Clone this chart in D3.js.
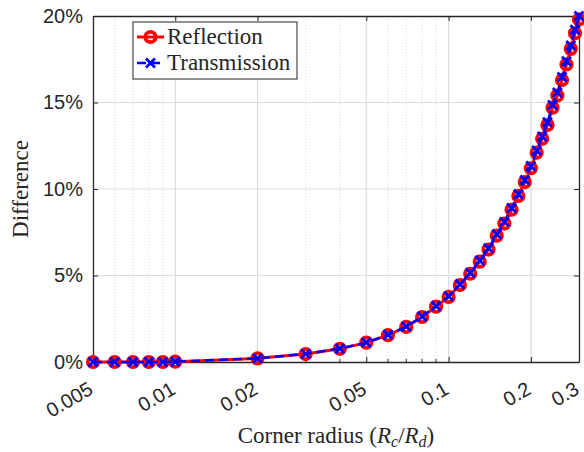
<!DOCTYPE html>
<html>
<head>
<meta charset="utf-8">
<script src="https://cdn.jsdelivr.net/npm/d3@7"></script>
<style>
  body { margin: 0; background: #fff; }
  svg text { fill: #262626; }
</style>
</head>
<body>
<svg id="chart" width="584" height="452"></svg>
<script>
// corner radius Rc/Rd
var radius = [0.005, 0.006, 0.007, 0.008, 0.009, 0.01, 0.02, 0.03, 0.04, 0.05,
              0.06, 0.07, 0.08, 0.09, 0.1, 0.11, 0.12, 0.13, 0.14, 0.15,
              0.16, 0.17, 0.18, 0.19, 0.2, 0.21, 0.22, 0.23, 0.24, 0.25,
              0.26, 0.27, 0.28, 0.29, 0.3];
// difference in %
var reflection = [0, 0, 0, 0, 0, 0.02, 0.21, 0.46, 0.76, 1.12,
                  1.55, 2.03, 2.6, 3.2, 3.76, 4.45, 5.1, 5.8, 6.5, 7.3,
                  8.0, 8.8, 9.6, 10.4, 11.2, 12.1, 12.9, 13.7, 14.7, 15.4,
                  16.3, 17.2, 18.1, 19.0, 19.8];
var transmission = [0, 0, 0, 0, 0, 0.02, 0.21, 0.47, 0.77, 1.13,
                    1.57, 2.05, 2.63, 3.24, 3.8, 4.5, 5.16, 5.87, 6.58, 7.38,
                    8.1, 8.9, 9.7, 10.52, 11.33, 12.22, 13.04, 13.86, 14.85, 15.58,
                    16.48, 17.38, 18.3, 19.2, 20.0];
var xTicks = [0.005, 0.01, 0.02, 0.05, 0.1, 0.2, 0.3];
var xMinor = [0.006, 0.007, 0.008, 0.009, 0.03, 0.04, 0.06, 0.07, 0.08, 0.09];
var yTicks = [0, 5, 10, 15, 20];

(function(){
var pLeft = 93, pTop = 16, pRight = 579, pBottom = 362;

var svg = d3.select("#chart");

var x = d3.scaleLog().domain([0.005, 0.3]).range([pLeft, pRight]);
var y = d3.scaleLinear().domain([0, 20]).range([pBottom, pTop]);

// grid
svg.append("g").selectAll("line")
    .data(xMinor).enter().append("line")
    .attr("x1", d => x(d)).attr("x2", d => x(d))
    .attr("y1", pTop).attr("y2", pBottom)
    .attr("stroke", "#d8d8d8")
    .attr("stroke-width", 1)
    .attr("stroke-dasharray", "1,2");

svg.append("g").selectAll("line")
    .data(xTicks.slice(1, -1)).enter().append("line")
    .attr("x1", d => x(d)).attr("x2", d => x(d))
    .attr("y1", pTop).attr("y2", pBottom)
    .attr("stroke", "#dcdcdc")
    .attr("stroke-width", 1.2);

svg.append("g").selectAll("line")
    .data(yTicks.slice(1, -1)).enter().append("line")
    .attr("x1", pLeft).attr("x2", pRight)
    .attr("y1", d => y(d)).attr("y2", d => y(d))
    .attr("stroke", "#dcdcdc")
    .attr("stroke-width", 1.2);

// axes
var xAxis = d3.axisBottom(x).tickValues(xTicks).tickSizeInner(-5).tickSizeOuter(0)
    .tickFormat(d3.format("~g"));
var gx = svg.append("g").attr("transform", "translate(0," + pBottom + ")").call(xAxis);
gx.selectAll(".tick text")
    .attr("font-family", "Liberation Sans, Arial, sans-serif")
    .attr("font-size", "20px")
    .attr("text-anchor", "end")
    .attr("x", 0).attr("y", 0).attr("dy", null)
    .attr("transform", "translate(1,31) rotate(-30)");

svg.append("g").attr("transform", "translate(0," + pBottom + ")")
    .selectAll("line").data(xMinor).enter().append("line")
    .attr("x1", d => x(d)).attr("x2", d => x(d))
    .attr("y1", 0).attr("y2", -3)
    .attr("stroke", "#262626");

var yAxis = d3.axisLeft(y).tickValues(yTicks).tickSizeInner(-5).tickSizeOuter(0)
    .tickFormat(d => d + "%");
var gy = svg.append("g").attr("transform", "translate(" + pLeft + ",0)").call(yAxis);
gy.selectAll("text")
    .attr("font-family", "Liberation Sans, Arial, sans-serif")
    .attr("font-size", "20px")
    .attr("x", -10);

// top and right box lines with inward ticks
svg.append("g").attr("transform", "translate(0," + pTop + ")")
    .call(d3.axisTop(x).tickValues(xTicks).tickSizeInner(-5).tickSizeOuter(0).tickFormat(""));
svg.append("g").attr("transform", "translate(" + pRight + ",0)")
    .call(d3.axisRight(y).tickValues(yTicks).tickSizeInner(-5).tickSizeOuter(0).tickFormat(""));

svg.selectAll(".domain").attr("stroke", "#262626").attr("stroke-width", 1.3);
svg.selectAll(".tick line").attr("stroke", "#262626");

// series
var line = d3.line().x(d => x(d[0])).y(d => y(d[1]));
var refData = radius.map((r, i) => [r, reflection[i]]);
var traData = radius.map((r, i) => [r, transmission[i]]);

svg.append("path").datum(refData)
    .attr("d", line)
    .attr("fill", "none")
    .attr("stroke", "#ff0000")
    .attr("stroke-width", 3);

svg.append("g").selectAll("circle")
    .data(refData).enter().append("circle")
    .attr("cx", d => x(d[0])).attr("cy", d => y(d[1]))
    .attr("r", 5.2)
    .attr("fill", "none")
    .attr("stroke", "#ff0000")
    .attr("stroke-width", 3.8);

svg.append("path").datum(traData)
    .attr("d", line)
    .attr("fill", "none")
    .attr("stroke", "#0000ff")
    .attr("stroke-width", 2.5)
    .attr("stroke-dasharray", "9,5");

function cross(g, cx, cy, s){
    g.append("path")
        .attr("d", "M" + (cx - s) + "," + (cy - s) + "L" + (cx + s) + "," + (cy + s) +
                   "M" + (cx - s) + "," + (cy + s) + "L" + (cx + s) + "," + (cy - s))
        .attr("stroke", "#0000ff")
        .attr("stroke-width", 2.8)
        .attr("fill", "none");
}
var gc = svg.append("g");
traData.forEach(function(d){ cross(gc, x(d[0]), y(d[1]), 4.5); });

// legend
var lg = svg.append("g");
lg.append("rect")
    .attr("x", 133).attr("y", 22)
    .attr("width", 164).attr("height", 57)
    .attr("fill", "#fff")
    .attr("stroke", "#262626")
    .attr("stroke-width", 1);
lg.append("line").attr("x1", 137).attr("x2", 164).attr("y1", 37).attr("y2", 37)
    .attr("stroke", "#ff0000").attr("stroke-width", 3);
lg.append("circle").attr("cx", 150.5).attr("cy", 37).attr("r", 5.2)
    .attr("fill", "none").attr("stroke", "#ff0000").attr("stroke-width", 3.8);
lg.append("line").attr("x1", 137).attr("x2", 164).attr("y1", 63).attr("y2", 63)
    .attr("stroke", "#0000ff").attr("stroke-width", 2.5).attr("stroke-dasharray", "9,5");
cross(lg, 150.5, 63, 4.5);
lg.append("text").attr("x", 167).attr("y", 44)
    .attr("font-family", "Liberation Serif, Times New Roman, serif")
    .attr("font-size", "23px")
    .text("Reflection");
lg.append("text").attr("x", 167).attr("y", 70)
    .attr("font-family", "Liberation Serif, Times New Roman, serif")
    .attr("font-size", "23px")
    .text("Transmission");

// axis titles
var xl = svg.append("text")
    .attr("x", 336).attr("y", 443)
    .attr("text-anchor", "middle")
    .attr("font-family", "Liberation Serif, Times New Roman, serif")
    .attr("font-size", "23px");
xl.append("tspan").text("Corner radius (");
xl.append("tspan").attr("font-style", "italic").text("R");
xl.append("tspan").attr("font-style", "italic").attr("font-size", "16px").attr("dy", 4).text("c");
xl.append("tspan").attr("dy", -4).text("/");
xl.append("tspan").attr("font-style", "italic").text("R");
xl.append("tspan").attr("font-style", "italic").attr("font-size", "16px").attr("dy", 4).text("d");
xl.append("tspan").attr("dy", -4).text(")");

svg.append("text")
    .attr("transform", "translate(28,189) rotate(-90)")
    .attr("text-anchor", "middle")
    .attr("font-family", "Liberation Serif, Times New Roman, serif")
    .attr("font-size", "23px")
    .text("Difference");
})();
</script>
</body>
</html>
